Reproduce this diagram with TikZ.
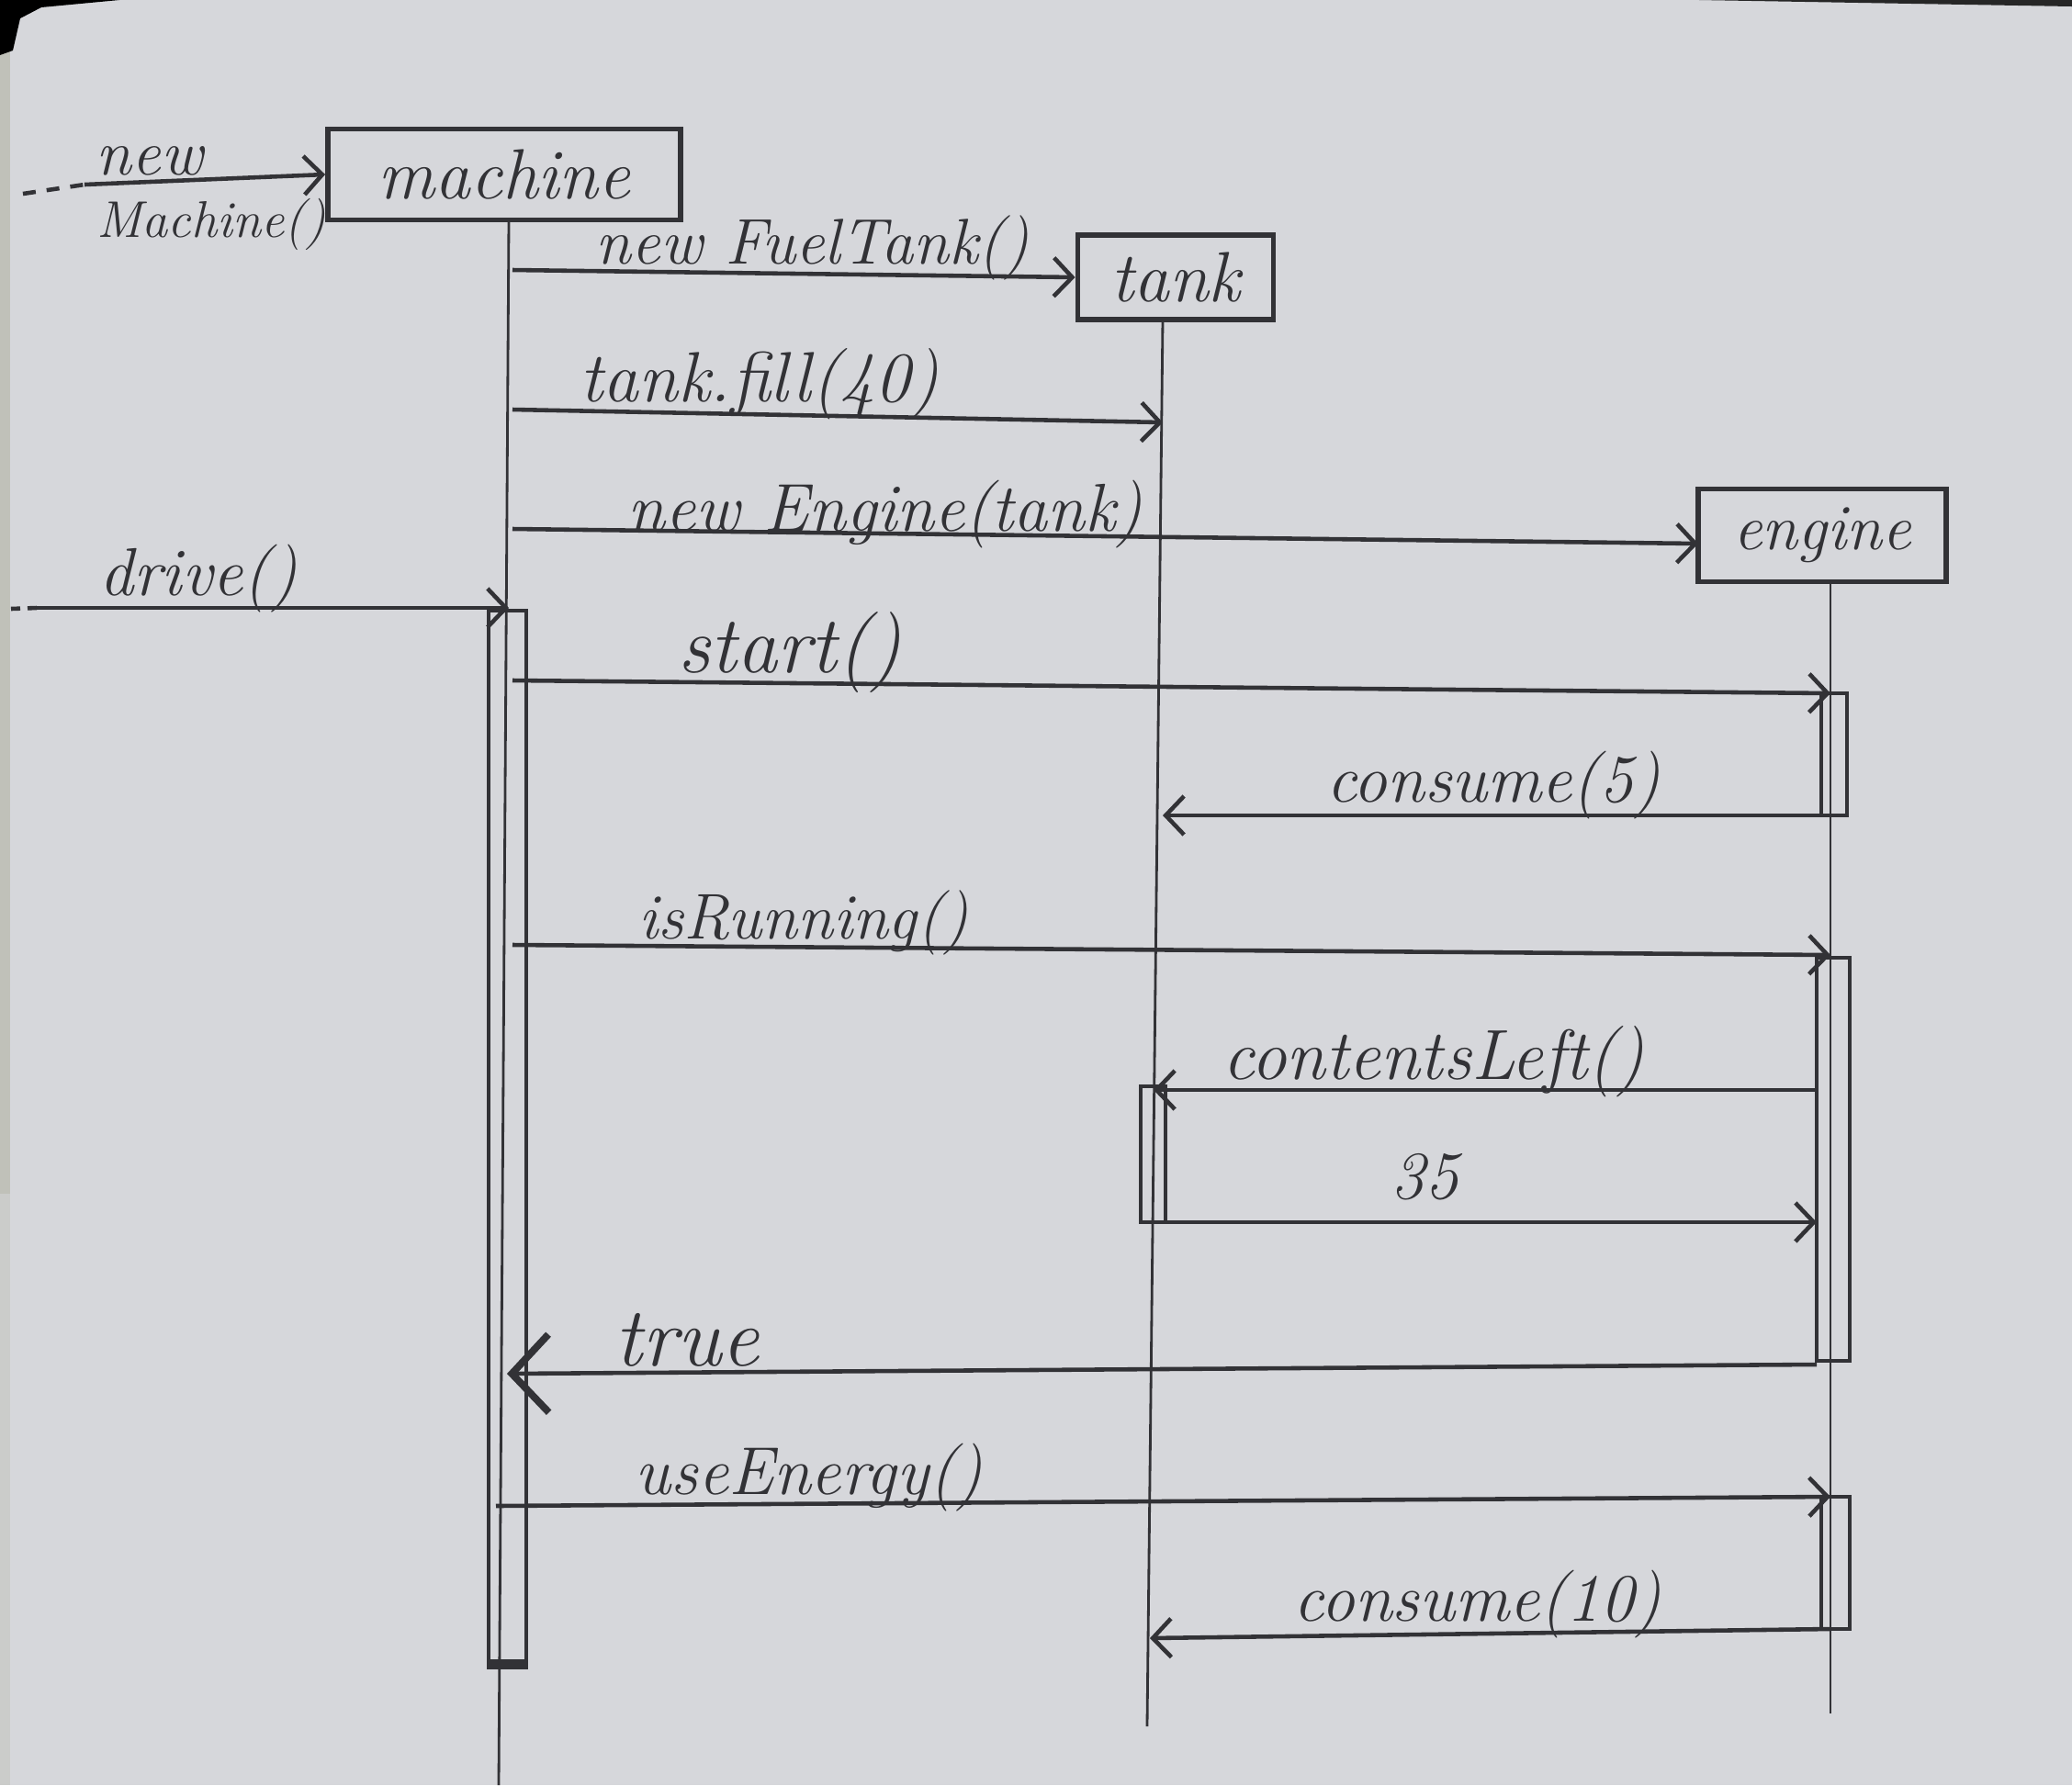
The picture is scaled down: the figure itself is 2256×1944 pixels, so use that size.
\documentclass[tikz,border=0pt]{standalone}
\usetikzlibrary{arrows.meta}
\definecolor{paper}{RGB}{214,215,219}
\definecolor{edge}{RGB}{192,193,185}
\definecolor{ink}{RGB}{50,50,54}
\begin{document}
\begin{tikzpicture}[x=0.01cm,y=-0.01cm,
  obj/.style={draw=ink, line width=1.6pt, rectangle, inner sep=0pt, text=ink,
              font=\fontsize{22}{26}\selectfont\itshape},
  life/.style={draw=ink, line width=0.8pt},
  act/.style={draw=ink, line width=1.2pt},
  msg/.style={draw=ink, line width=1.3pt, -{Straight Barb[length=0.2cm,width=0.42cm]}},
  bigmsg/.style={draw=ink, line width=1.3pt, -{Straight Barb[length=0.4cm,width=0.85cm,line width=2.2pt]}},
  lbl/.style={text=ink, inner sep=0pt, anchor=base, font=\fontsize{21}{25}\selectfont\itshape},
  small/.style={font=\fontsize{16}{19}\selectfont\itshape},
  big/.style={font=\fontsize{25}{29}\selectfont\itshape}]
\useasboundingbox (0,0) rectangle (2256,1944);
% paper
\fill[paper] (0,0) rectangle (2256,1944);
\fill[edge] (0,0) rectangle (11,1300);
\fill[edge!50!paper] (0,1300) rectangle (11,1944);
\fill[black] (0,0) -- (130,0) -- (45,8) -- (22,20) -- (14,55) -- (0,60) -- cycle;
\fill[black!85] (1850,0) -- (2256,0) -- (2256,7) -- cycle;

% objects
\node[obj, minimum width=3.84cm, minimum height=0.99cm] (machine) at (549,190) {machine};
\node[obj, minimum width=2.13cm, minimum height=0.92cm] (tank) at (1280,302) {tank};
\node[obj, minimum width=2.70cm, minimum height=1.01cm, font=\fontsize{20}{24}\selectfont\itshape] (engine) at (1984,583) {engine};

% lifelines
\coordinate (mTop) at (554,240);
\coordinate (mBot) at (543,1944);
\coordinate (tTop) at (1266,348);
\coordinate (tBot) at (1249,1880);
\coordinate (eTop) at (1993,634);
\coordinate (eBot) at (1993,1866);
\draw[life] (mTop) -- (mBot);
\draw[life] (tTop) -- (tBot);
\draw[life] (eTop) -- (eBot);

% activation bars
\draw[act] (532,665) rectangle (573,1816);
\draw[ink, line width=3pt] (532,1812) -- (573,1812);
\draw[act] (1983,755) rectangle (2011,888);
\draw[act] (1978,1043) rectangle (2014,1482);
\draw[act] (1242,1183) rectangle (1269,1331);
\draw[act] (1983,1630) rectangle (2014,1774);

% new Machine()
\coordinate (nmD) at (25,211);
\coordinate (nmS) at (92,201);
\draw[ink, line width=1.3pt, dash pattern=on 0.14cm off 0.12cm] (nmD) -- (nmS);
\draw[msg] (nmS) -- (machine.west);
\node[lbl, font=\fontsize{20}{24}\selectfont\itshape] (lNew) at (163,190) {new};
\node[lbl, small] (lMachine) at (230,258) {Machine()};

% new FuelTank()
\coordinate (a1s) at (558,294);
\draw[msg] (a1s) -- (tank.west);
\node[lbl, font=\fontsize{20}{24}\selectfont\itshape] (lFuel) at (885,287) {new FuelTank()};

% tank.fill(40)
\coordinate (a2s) at (558,446);
\coordinate (a2e) at (1266,460);
\draw[msg] (a2s) -- (a2e);
\node[lbl, font=\fontsize{22}{26}\selectfont\itshape] (lFill) at (827,437) {tank.fill(40)};

% new Engine(tank)
\coordinate (a3s) at (558,576);
\coordinate (a3e) at (1849,592);
\draw[msg] (a3s) -- (a3e);
\node[lbl] (lEngine) at (964,578) {new Engine(tank)};

% drive()
\coordinate (drD) at (12,663);
\coordinate (drS) at (40,662);
\coordinate (drE) at (554,662);
\draw[ink, line width=1.3pt, dash pattern=on 0.1cm off 0.08cm] (drD) -- (drS);
\draw[msg] (drS) -- (drE);
\node[lbl] (lDrive) at (216,648) {drive()};

% start()
\coordinate (a4s) at (558,741);
\coordinate (a4e) at (1993,755);
\draw[msg] (a4s) -- (a4e);
\node[lbl, big] (lStart) at (860,732) {start()};

% consume(5)
\coordinate (a5s) at (1993,888);
\coordinate (a5e) at (1266,888);
\draw[msg] (a5s) -- (a5e);
\node[lbl] (lCons5) at (1626,873) {consume(5)};

% isRunning()
\coordinate (a6s) at (558,1029);
\coordinate (a6e) at (1993,1040);
\draw[msg] (a6s) -- (a6e);
\node[lbl, font=\fontsize{20}{24}\selectfont\itshape] (lRun) at (875,1022) {isRunning()};

% contentsLeft()
\coordinate (a7s) at (1978,1187);
\coordinate (a7e) at (1256,1187);
\draw[msg] (a7s) -- (a7e);
\node[lbl, font=\fontsize{22}{26}\selectfont\itshape] (lLeft) at (1561,1175) {contentsLeft()};

% 35
\coordinate (a8s) at (1269,1331);
\coordinate (a8e) at (1978,1331);
\draw[msg] (a8s) -- (a8e);
\node[lbl] (l35) at (1551,1305) {35};

% true
\coordinate (a9s) at (1978,1486);
\coordinate (a9e) at (552,1496);
\draw[bigmsg] (a9s) -- (a9e);
\node[lbl, font=\fontsize{26}{30}\selectfont\itshape] (lTrue) at (748,1487) {true};

% useEnergy()
\coordinate (a10s) at (540,1640);
\coordinate (a10e) at (1993,1630);
\draw[msg] (a10s) -- (a10e);
\node[lbl] (lUse) at (881,1627) {useEnergy()};

% consume(10)
\coordinate (a11s) at (1993,1774);
\coordinate (a11e) at (1252,1784);
\draw[msg] (a11s) -- (a11e);
\node[lbl] (lCons10) at (1609,1765) {consume(10)};
\end{tikzpicture}
\end{document}
